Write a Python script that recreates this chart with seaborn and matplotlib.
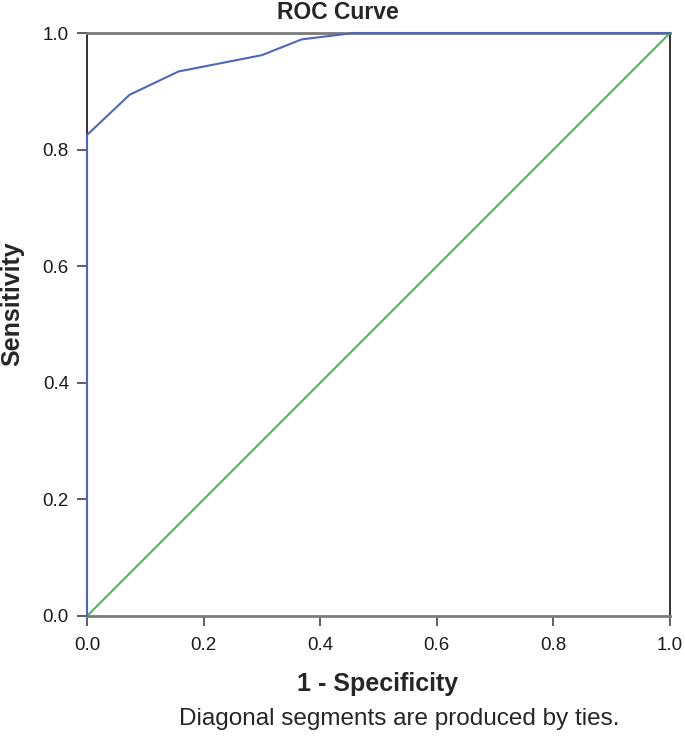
import numpy as np
import pandas as pd
import seaborn as sns
import matplotlib
matplotlib.use("Agg")
import matplotlib.pyplot as plt

# ROC curve values
fpr = [0.0, 0.0, 0.073, 0.157, 0.300, 0.368, 0.457, 1.0]
tpr = [0.0, 0.825, 0.894, 0.934, 0.962, 0.989, 1.0, 1.0]
ref_x = [0.0, 1.0]
ref_y = [0.0, 1.0]
ticks = [0.0, 0.2, 0.4, 0.6, 0.8, 1.0]

sns.set_style("white")
plt.rcParams["font.family"] = ["Liberation Sans", "DejaVu Sans"]

fig = plt.figure(figsize = (6.85, 7.42), dpi = 100)
ax = fig.add_axes([87 / 685, 1 - 616 / 742, 583 / 685, 583 / 742])

roc = pd.DataFrame({"fpr": fpr, "tpr": tpr})
ref = pd.DataFrame({"x": ref_x, "y": ref_y})
sns.lineplot(data = ref, x = "x", y = "y", color = "#3dbb4c", linewidth = 1.4,
             ax = ax, clip_on = False)
sns.lineplot(data = roc, x = "fpr", y = "tpr", sort = False, estimator = None,
             color = "#4f67b8", linewidth = 1.5, ax = ax, zorder = 3, clip_on = False)

ax.set_xlim(0, 1)
ax.set_ylim(0, 1)
ax.set_xticks(ticks)
ax.set_yticks(ticks)
ax.set_xticklabels([f"{t:.1f}" for t in ticks], fontsize = 13.5, color = "#1a1a1a")
ax.set_yticklabels([f"{t:.1f}" for t in ticks], fontsize = 13.5, color = "#1a1a1a")
ax.tick_params(axis = "both", direction = "out", length = 7, width = 1.1, color = "#333333",
               bottom = True, left = True)
ax.tick_params(axis = "x", pad = 8)
ax.tick_params(axis = "y", pad = 6)

for side in ["left", "right"]:
    ax.spines[side].set_color("#111111")
    ax.spines[side].set_linewidth(1.2)
    ax.spines[side].set_zorder(1)
for side in ["top", "bottom"]:
    ax.spines[side].set_color("#7a7a7a")
    ax.spines[side].set_linewidth(2.0)
    ax.spines[side].set_zorder(1)

ax.set_xlabel("")
ax.set_ylabel("")

fig.text(338 / 685, 1 - 12.5 / 742, "ROC Curve", ha = "center", va = "center",
         fontsize = 16.5, fontweight = "bold")
fig.text(378 / 685, 1 - 684 / 742, "1 - Specificity", ha = "center", va = "center",
         fontsize = 18, fontweight = "bold")
fig.text(12 / 685, 1 - 304 / 742, "Sensitivity", ha = "center", va = "center",
         fontsize = 18, fontweight = "bold", rotation = 90)
fig.text(399 / 685, 1 - 719 / 742, "Diagonal segments are produced by ties.",
         ha = "center", va = "center", fontsize = 17.5)

fig.savefig("out.png", dpi = 100)
